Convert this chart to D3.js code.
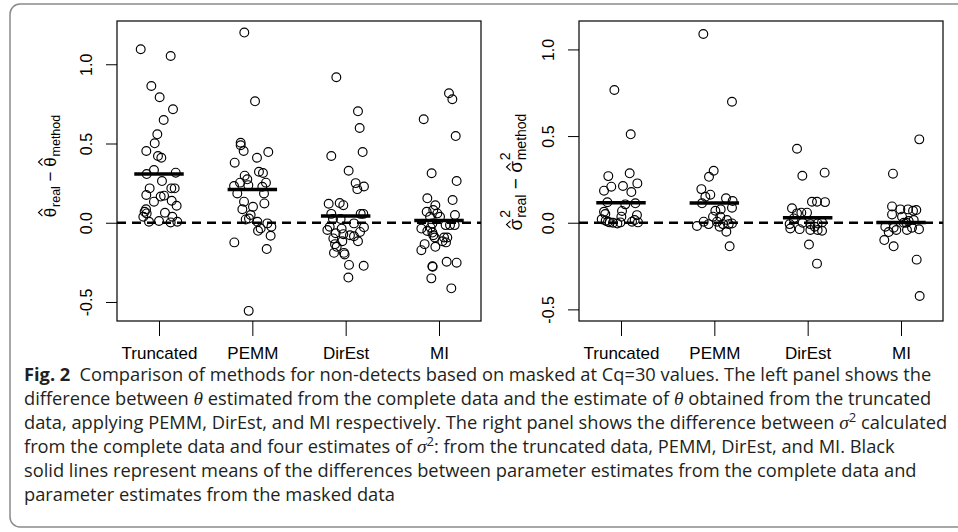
<!DOCTYPE html>
<html><head><meta charset="utf-8">
<script src="https://cdn.jsdelivr.net/npm/d3@7"></script>
<style>body{margin:0;background:#fff}svg{display:block}</style>
</head><body>
<svg id="chart" width="958" height="532"></svg>
<script>
// ---------- data ----------
const categories = ["Truncated", "PEMM", "DirEst", "MI"];
const yTickValues = [-0.5, 0.0, 0.5, 1.0];
const yTickLabels = ["-0.5", "0.0", "0.5", "1.0"];

// left panel: theta_real - theta_method
const thetaTruncated = [1.095,1.052,0.863,0.792,0.716,0.648,0.558,0.501,0.453,0.421,0.410,0.333,0.307,0.316,0.263,0.217,0.217,0.217,0.175,0.171,0.165,0.133,0.139,0.107,0.085,0.069,0.059,0.038,0.063,0.038,0.006,0.011,0.002,0.006];
const thetaTruncatedJitter = [-0.196,0.125,-0.082,0.007,0.150,0.050,-0.018,-0.046,-0.136,-0.011,0.025,-0.054,-0.132,0.179,0.032,-0.100,0.132,0.168,-0.136,0.054,0.018,-0.054,0.136,0.189,-0.139,-0.154,-0.132,-0.168,0.064,0.143,-0.107,0.000,0.125,0.196];
const thetaPEMM = [1.200,0.766,0.505,0.489,0.453,0.446,0.410,0.379,0.322,0.314,0.297,0.274,0.253,0.253,0.237,0.232,0.227,0.185,0.185,0.122,0.133,0.101,0.085,0.049,0.027,0.021,0.006,-0.004,-0.036,-0.051,-0.025,-0.082,-0.124,-0.166,-0.556];
const thetaPEMMJitter = [-0.086,0.029,-0.125,-0.125,-0.093,0.171,0.050,-0.189,0.071,0.114,-0.082,-0.054,-0.132,0.146,-0.043,-0.196,0.107,0.125,-0.161,0.129,-0.089,0.007,-0.107,-0.018,-0.036,-0.071,0.054,0.161,0.089,0.061,0.204,0.196,-0.193,0.154,-0.039];
const thetaDirEst = [0.918,0.703,0.598,0.446,0.421,0.328,0.250,0.212,0.229,0.120,0.124,0.111,0.056,0.056,0.056,0.023,0.023,-0.004,-0.025,-0.029,-0.046,-0.037,-0.066,-0.072,-0.079,-0.058,-0.099,-0.085,-0.117,-0.135,-0.152,-0.117,-0.190,-0.190,-0.200,-0.266,-0.272,-0.346];
const thetaDirEstJitter = [-0.100,0.132,0.150,0.182,-0.154,0.032,0.107,0.125,0.196,-0.182,-0.064,-0.025,-0.154,0.161,0.189,-0.054,-0.136,0.089,-0.171,0.196,-0.196,-0.043,-0.107,-0.025,0.046,0.154,-0.132,0.089,0.132,-0.114,-0.096,-0.036,-0.125,-0.018,-0.011,0.036,0.193,0.029];
const thetaMI = [0.817,0.779,0.653,0.547,0.312,0.263,0.154,0.143,0.110,0.069,0.080,0.059,0.049,0.038,0.038,-0.004,-0.015,-0.015,-0.015,-0.037,-0.031,-0.052,-0.062,-0.079,-0.093,-0.093,-0.093,-0.117,-0.124,-0.135,-0.152,-0.173,-0.274,-0.278,-0.246,-0.252,-0.351,-0.414];
const thetaMIJitter = [0.107,0.143,-0.164,0.179,-0.079,0.189,-0.125,0.146,-0.039,-0.132,-0.061,-0.018,0.171,-0.096,0.011,-0.071,0.071,0.118,0.168,-0.189,-0.089,-0.125,-0.071,-0.061,-0.046,0.054,0.089,0.036,0.075,-0.154,-0.039,-0.189,-0.071,-0.068,0.082,0.189,-0.082,0.132];
const thetaMeans = [0.307, 0.209, 0.042, 0.014];

// right panel: sigma^2_real - sigma^2_method
const sigmaTruncated = [0.766,0.510,0.269,0.285,0.208,0.212,0.227,0.185,0.177,0.118,0.106,0.112,0.063,0.068,0.050,0.035,0.044,0.020,0.012,0.002,0.000,-0.004,0.002,0.006,0.002,0.016,0.006];
const sigmaTruncatedJitter = [-0.071,0.104,-0.136,0.093,-0.104,0.021,0.175,-0.182,0.111,-0.146,0.046,0.154,-0.182,0.011,-0.168,0.004,0.171,-0.207,-0.164,-0.121,-0.086,-0.039,-0.007,0.118,0.182,0.146,-0.139];
const sigmaPEMM = [1.089,0.698,0.300,0.265,0.194,0.150,0.162,0.141,0.125,0.112,0.087,0.069,0.077,0.035,0.035,0.006,-0.008,-0.019,0.006,0.016,-0.008,-0.008,-0.004,-0.023,-0.052,-0.136];
const sigmaPEMMJitter = [-0.118,0.189,-0.007,-0.057,-0.139,-0.096,-0.043,0.125,0.196,-0.132,0.189,0.011,0.068,-0.014,0.064,-0.114,-0.061,-0.186,0.029,0.136,0.093,0.154,0.189,0.057,0.129,0.164];
const sigmaDirEst = [0.427,0.271,0.289,0.121,0.121,0.119,0.083,0.054,0.058,0.058,0.025,0.002,-0.008,0.000,-0.008,-0.004,-0.033,-0.037,-0.042,-0.042,-0.046,-0.023,-0.126,-0.236];
const sigmaDirEstJitter = [-0.114,-0.057,0.182,0.046,0.100,0.186,-0.168,-0.114,-0.068,-0.007,-0.150,0.154,-0.193,-0.054,0.029,0.107,-0.186,-0.086,0.029,0.107,0.154,0.075,0.014,0.100];
const sigmaMI = [0.481,0.283,0.094,0.077,0.077,0.069,0.073,0.048,0.035,0.016,-0.023,-0.029,-0.042,0.000,0.010,-0.029,-0.042,-0.038,-0.054,-0.100,-0.136,-0.213,-0.423,0.000];
const sigmaMIJitter = [0.196,-0.086,-0.096,-0.007,0.075,0.129,0.164,-0.096,0.011,0.136,-0.168,-0.079,-0.050,0.057,0.082,0.118,0.064,0.193,-0.132,-0.179,-0.079,0.168,0.200,0.029];
const sigmaMeans = [0.115, 0.114, 0.029, 0.002];

// caption text
const captionLines = [
  [["b", "Fig. 2"], ["n", "\u2002Comparison of methods for non-detects based on masked at Cq=30 values. The left panel shows the"]],
  [["n", "difference between "], ["i", "\u03B8"], ["n", " estimated from the complete data and the estimate of "], ["i", "\u03B8"], ["n", " obtained from the truncated"]],
  [["n", "data, applying PEMM, DirEst, and MI respectively. The right panel shows the difference between "], ["i", "\u03C3"], ["s", "2"], ["n", " calculated"]],
  [["n", "from the complete data and four estimates of "], ["i", "\u03C3"], ["s", "2"], ["n", ": from the truncated data, PEMM, DirEst, and MI. Black"]],
  [["n", "solid lines represent means of the differences between parameter estimates from the complete data and"]],
  [["n", "parameter estimates from the masked data"]]
];

// ---------- drawing ----------
const svg = d3.select("#chart");
const AX_FONT = "'Liberation Sans', Arial, Helvetica, sans-serif";

svg.append("rect")
  .attr("x", 10).attr("y", 4).attr("width", 975).attr("height", 523).attr("rx", 10)
  .attr("fill", "none").attr("stroke", "#8a8a8a").attr("stroke-width", 1.5);

function drawPanel(cfg) {
  const g = svg.append("g");
  const x = d3.scaleLinear().domain([0.55, 4.45]).range([cfg.left, cfg.right]);
  const y = d3.scaleLinear().domain(cfg.yDomain).range([cfg.bottom, cfg.top]);

  const ya = g.append("g").attr("transform", `translate(${cfg.left},0)`)
    .call(d3.axisLeft(y).tickValues(yTickValues).tickSize(11).tickSizeOuter(0)
      .tickFormat((d, i) => yTickLabels[i]));
  ya.select(".domain").remove();
  ya.selectAll(".tick line").attr("stroke", "#000").attr("stroke-width", 1);
  ya.selectAll(".tick text")
    .attr("x", null).attr("dy", null)
    .attr("transform", "translate(-25,0) rotate(-90)")
    .attr("text-anchor", "middle")
    .attr("font-family", AX_FONT).attr("font-size", 16).attr("fill", "#000");

  const xa = g.append("g").attr("transform", `translate(0,${cfg.bottom})`)
    .call(d3.axisBottom(x).tickValues([1, 2, 3, 4]).tickSize(15).tickSizeOuter(0)
      .tickFormat(d => categories[d - 1]));
  xa.select(".domain").remove();
  xa.selectAll(".tick line").attr("stroke", "#000").attr("stroke-width", 1);
  xa.selectAll(".tick text").attr("y", 38).attr("dy", null)
    .attr("font-family", AX_FONT).attr("font-size", 17).attr("fill", "#000");

  g.append("rect").attr("x", cfg.left).attr("y", cfg.top)
    .attr("width", cfg.right - cfg.left).attr("height", cfg.bottom - cfg.top)
    .attr("fill", "none").attr("stroke", "#000").attr("stroke-width", 1.2);

  g.append("line").attr("x1", cfg.left).attr("x2", cfg.right)
    .attr("y1", y(0)).attr("y2", y(0))
    .attr("stroke", "#000").attr("stroke-width", 2.6).attr("stroke-dasharray", "9,6");

  cfg.groups.forEach((grp, gi) => {
    g.append("g").selectAll("circle").data(grp.values).join("circle")
      .attr("cx", (d, i) => x(gi + 1 + grp.jitter[i]))
      .attr("cy", d => y(d))
      .attr("r", 4.4).attr("fill", "none").attr("stroke", "#000").attr("stroke-width", 1.15);
  });

  g.append("g").selectAll("line").data(cfg.means).join("line")
    .attr("x1", (d, i) => x(i + 1 - 0.265)).attr("x2", (d, i) => x(i + 1 + 0.265))
    .attr("y1", d => y(d)).attr("y2", d => y(d))
    .attr("stroke", "#000").attr("stroke-width", 3.5);
}

drawPanel({
  left: 117, right: 481, top: 21, bottom: 321, yDomain: [-0.62, 1.273],
  groups: [
    {values: thetaTruncated, jitter: thetaTruncatedJitter},
    {values: thetaPEMM, jitter: thetaPEMMJitter},
    {values: thetaDirEst, jitter: thetaDirEstJitter},
    {values: thetaMI, jitter: thetaMIJitter}
  ],
  means: thetaMeans
});
drawPanel({
  left: 579, right: 943, top: 21, bottom: 321, yDomain: [-0.567, 1.164],
  groups: [
    {values: sigmaTruncated, jitter: sigmaTruncatedJitter},
    {values: sigmaPEMM, jitter: sigmaPEMMJitter},
    {values: sigmaDirEst, jitter: sigmaDirEstJitter},
    {values: sigmaMI, jitter: sigmaMIJitter}
  ],
  means: sigmaMeans
});

// ---------- axis titles (plotmath-like) ----------
function mathTitle(cx, cy, parts, mainSize, subSize, supY, subY) {
  const g = svg.append("g").attr("transform", `translate(${cx},${cy}) rotate(-90)`);
  const inner = g.append("g");
  let pos = 0;
  function txt(s, size, xx, yy) {
    const t = inner.append("text").attr("x", xx).attr("y", yy)
      .style("white-space", "pre")
      .attr("font-family", AX_FONT).attr("font-size", size).attr("fill", "#000").text(s);
    return t.node().getComputedTextLength();
  }
  parts.forEach(p => {
    if (p.type === "greek") {
      const w = txt(p.text, mainSize, pos, 0);
      const c = pos + w / 2;
      const hy = p.hatY;
      inner.append("path")
        .attr("d", `M${c - 3.6},${hy} L${c},${hy - 4} L${c + 3.6},${hy}`)
        .attr("fill", "none").attr("stroke", "#000").attr("stroke-width", 1.1);
      pos += w;
      let adv = 0;
      if (p.sup) adv = Math.max(adv, txt(p.sup, subSize, pos + 0.8, supY));
      if (p.sub) adv = Math.max(adv, txt(p.sub, subSize, pos + 0.8, subY));
      pos += adv + 0.8;
    } else {
      pos += txt(p.text, mainSize, pos, 0);
    }
  });
  inner.attr("transform", `translate(${-pos / 2},0)`);
}

mathTitle(56, 166, [
  {type: "greek", text: "\u03B8", sub: "real", hatY: -13.5},
  {type: "op", text: "\u00A0\u2212\u00A0"},
  {type: "greek", text: "\u03B8", sub: "method", hatY: -13.5}
], 17, 12.5, -10, 4);

mathTitle(522, 172, [
  {type: "greek", text: "\u03C3", sup: "2", sub: "real", hatY: -11.5},
  {type: "op", text: "\u00A0\u2212\u00A0"},
  {type: "greek", text: "\u03C3", sup: "2", sub: "method", hatY: -11.5}
], 19, 14, -12, 4);

// ---------- caption ----------
const CAP_FONT = "'Open Sans', 'Noto Sans', sans-serif";
const capX = 24;
const capBaselines = [381, 405, 429, 453, 477, 501];
const capEnds = [943, 933, 951, 889, 913, 395];
const capNodes = [];
captionLines.forEach((line, li) => {
  const t = svg.append("text").attr("font-family", CAP_FONT).attr("font-size", 17.5).attr("fill", "#231f20");
  let raised = false;
  line.forEach(([style, s]) => {
    const ts = t.append("tspan").text(s);
    if (style === "b") ts.attr("font-weight", "bold");
    if (style === "i") ts.attr("font-family", "'Liberation Serif', 'DejaVu Serif', serif").attr("font-style", "italic").attr("font-size", 18.5);
    if (style === "s") { ts.attr("font-size", 12.5).attr("dy", -7); raised = true; }
    else if (raised) { ts.attr("dy", 7); raised = false; }
  });
  capNodes.push(t);
});
const ratios = capNodes.map((t, i) => (capEnds[i] - capX) / t.node().getComputedTextLength());
const ratio = d3.median(ratios);
capNodes.forEach((t, i) => t.attr("transform", `translate(${capX},${capBaselines[i]}) scale(${ratio},1)`));
</script>
</body></html>
